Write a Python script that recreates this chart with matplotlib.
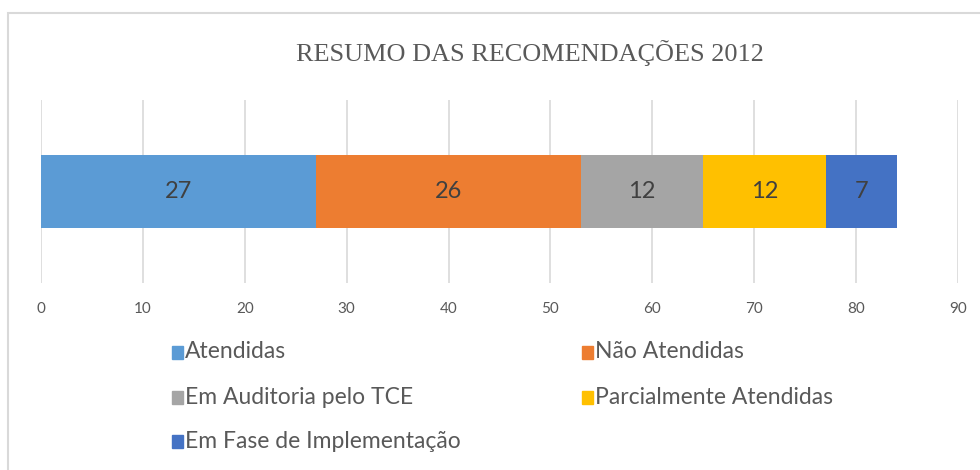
import matplotlib.pyplot as plt
from matplotlib.patches import Rectangle

# dados do gráfico
categorias = ["Atendidas", "Não Atendidas", "Em Auditoria pelo TCE",
              "Parcialmente Atendidas", "Em Fase de Implementação"]
valores = [27, 26, 12, 12, 7]
cores = ["#5B9BD5", "#ED7D31", "#A5A5A5", "#FFC000", "#4472C4"]
ticks_x = [0, 10, 20, 30, 40, 50, 60, 70, 80, 90]

FONTE = ["Lato", "DejaVu Sans"]

fig = plt.figure(figsize=(9.8, 4.7), dpi=100)

# moldura do gráfico
fig.patches.append(Rectangle((8 / 980, -0.1), 1.0, 1 - 12.5 / 470 + 0.1,
                             transform=fig.transFigure, fill=False,
                             edgecolor="#D9D9D9", linewidth=1.5))

ax = fig.add_axes([41 / 980, 1 - 283 / 470, 917 / 980, 183 / 470])

esquerda = 0
for nome, v, c in zip(categorias, valores, cores):
    ax.barh(0, v, left=esquerda, height=0.8, color=c, zorder=3)
    ax.text(esquerda + v / 2, 0, str(v), ha="center", va="center",
            fontsize=17, color="#404040", family=FONTE, zorder=4)
    esquerda += v

ax.set_xlim(0, 90)
ax.set_ylim(-1, 1)
ax.set_xticks(ticks_x)
ax.set_yticks([])
ax.grid(axis="x", color="#D9D9D9", linewidth=1.2, zorder=0)
ax.tick_params(axis="x", length=0, pad=14, labelsize=11, labelcolor="#595959")
for lbl in ax.get_xticklabels():
    lbl.set_family(FONTE)
for s in ax.spines.values():
    s.set_visible(False)

fig.text(530 / 980, 1 - 53 / 470, "RESUMO DAS RECOMENDAÇÕES 2012",
         ha="center", va="center", fontsize=18.9, color="#595959",
         family="Liberation Serif")

# legenda manual (duas colunas, preenchida por linha)
col_x = [172, 582]
lin_y = [352, 397, 441]
for i, (nome, c) in enumerate(zip(categorias, cores)):
    x0 = col_x[i % 2]
    y0 = lin_y[i // 2]
    fig.patches.append(Rectangle((x0 / 980, 1 - (y0 + 7) / 470), 11 / 980, 13 / 470,
                                 transform=fig.transFigure, color=c))
    fig.text((x0 + 13) / 980, 1 - y0 / 470, nome, ha="left", va="center",
             fontsize=16.5, color="#595959", family=FONTE)

fig.savefig("out.png", dpi=100)
